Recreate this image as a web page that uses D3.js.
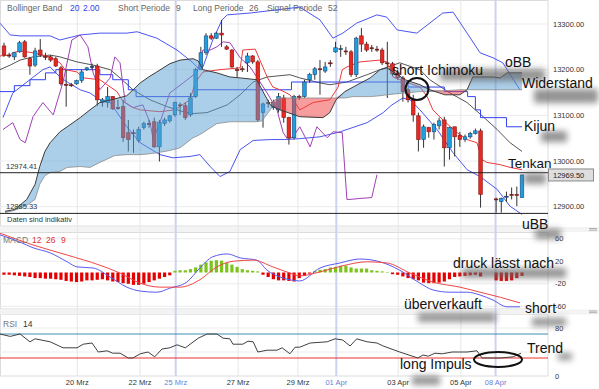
<!DOCTYPE html>
<html>
<head>
<meta charset="utf-8">
<script src="https://cdn.jsdelivr.net/npm/d3@7"></script>
<style>
  body { margin: 0; background: #fff; }
  svg { font-family: "Liberation Sans", Arial, sans-serif; display: block; }
</style>
</head>
<body>
<svg id="chart" width="599" height="389"></svg>
<script>
// candle data, one row per bar: [open, high, low, close], null = no bar
const candles = [
  [13252,13259,13228,13232],[13232,13237,13226,13231],[13228,13239,13221,13237],[13239,13263,13237,13259],
  [13261,13265,13226,13228],[13224,13228,13189,13208],[13210,13248,13206,13241],[13243,13267,13228,13232],
  [13229,13237,13221,13228],[13228,13232,13217,13221],[13224,13228,13206,13208],[13204,13208,13165,13169],
  [13168,13200,13119,13166],[13167,13171,13162,13166],[13169,13178,13167,13176],[13176,13200,13171,13195],
  [13200,13206,13197,13204],[13206,13213,13200,13207],[13208,13213,13121,13134],[13128,13138,13119,13134],
  [13128,13162,13117,13141],[13141,13142,13112,13114],[13117,13134,13112,13116],[13119,13134,13042,13051],
  [13062,13090,13021,13047],[13062,13069,13018,13061],[13045,13075,13040,13069],[13073,13086,13069,13082],
  [13082,13090,13073,13081],[13086,13095,13029,13031],[13031,13090,12999,13084],[13082,13095,13077,13090],
  [13088,13101,13084,13099],[13101,13130,13097,13128],[13123,13128,13101,13122],[13121,13128,13090,13095],
  [13101,13149,13097,13138],[13141,13204,13138,13200],[13200,13250,13199,13237],[13237,13280,13232,13274],
  [13274,13280,13265,13269],[13269,13283,13267,13280],[13280,13309,13250,13276],[13250,13254,13243,13245],
  [13243,13245,13204,13206],[13200,13206,13184,13199],[13202,13208,13195,13201],[13215,13237,13195,13230],
  [13230,13232,13213,13217],[13217,13221,13086,13090],[13106,13128,13073,13125],[13128,13134,13117,13127],
  [13117,13134,13112,13128],[13112,13149,13106,13141],[13138,13145,13084,13095],[13095,13097,13036,13051],
  [13051,13145,13047,13141],[13141,13145,13134,13140],[13141,13178,13138,13173],[13178,13193,13171,13189],
  [13189,13206,13178,13202],[13202,13221,13145,13201],[13197,13217,13193,13206],[13215,13221,13206,13214],
  [13239,13261,13237,13248],[13245,13254,13228,13246],[13241,13250,13232,13240],[13239,13243,13184,13189],
  [13189,13272,13184,13269],[13274,13291,13239,13256],[13256,13261,13239,13243],[13248,13254,13239,13247],
  [13245,13252,13239,13244],[13243,13248,13210,13215],[13215,13261,13138,13214],[13213,13217,13186,13191],
  [13193,13200,13178,13182],[13182,13186,13130,13152],[13156,13160,13128,13134],[13134,13145,13086,13101],
  [13099,13106,13021,13047],[13047,13080,13029,13075],[13073,13075,13051,13064],[13064,13084,13047,13080],
  [13077,13095,13069,13088],[13090,13097,12988,13029],[13029,13075,13003,13073],[13075,13075,13010,13053],
  [13056,13064,13031,13047],[13047,13058,13042,13053],[13053,13064,13049,13060],[13060,13071,13058,13066],
  [13066,13071,12898,12927],null,null,
  [12917,12920,12887,12915],[12911,12920,12887,12918],[12922,12933,12911,12923],[12927,12942,12916,12926],
  [12927,12944,12901,12926],[12920,12970,12920,12969.5]
];

// indicator lines, [bar index, value]
const bbUpper = [[-0.8,13302],[1.2,13276],[3.1,13274],[8.9,13274],[10.8,13265],[14.7,13276],[18.5,13280],[23.7,13280],
  [25.7,13283],[29.5,13269],[33.4,13243],[36.5,13215],[37.8,13200],[38.4,13206],[40.3,13265],[42.1,13309],[43.1,13320],
  [47.5,13324],[52.7,13331],[57.1,13337],[61.0,13309],[63.5,13269],[65.4,13280],[68.1,13302],[72.0,13320],[73.9,13315],
  [75.9,13287],[79.7,13280],[84.7,13324],[86.7,13326],[89.4,13280],[91.9,13237],[94.4,13226],[96.3,13215],[99.6,13156]];
const bbLower = [[-0.2,13095],[1.7,13149],[5.0,13178],[7.5,13200],[8.9,13206],[10.8,13184],[12.2,13173],[14.7,13156],
  [16.6,13149],[18.5,13134],[20.5,13128],[23.7,13075],[26.3,13040],[30.1,13014],[32.6,13007],[35.9,13010],[37.8,13014],
  [39.8,12988],[41.7,12966],[43.6,12977],[45.6,13025],[48.1,13045],[51.4,13047],[54.2,13047],[57.1,13049],[61.0,13053],
  [64.9,13064],[70.1,13084],[73.2,13106],[74.9,13123],[77.0,13138],[78.4,13134],[80.3,13112],[83.6,13069],[86.7,13018],
  [89.4,12981],[91.9,12966],[95.2,12938],[97.7,12901],[100,12883]];
const bbMiddle = [[-0.8,13200],[1.2,13210],[3.1,13221],[5.6,13228],[8.9,13232],[10.8,13228],[14.1,13217],[17.2,13210],
  [20.5,13200],[22.4,13182],[24.9,13156],[28.2,13134],[31.5,13119],[34.6,13108],[36.5,13104],[39.2,13106],[43.1,13123],
  [45.6,13145],[48.1,13173],[50.8,13184],[55.2,13189],[57.1,13182],[61.0,13171],[62.9,13167],[66.2,13173],[70.1,13189],
  [72.6,13200],[76.4,13215],[80.3,13200],[82.2,13178],[86.1,13149],[89.4,13128],[92.5,13097],[95.2,13069],[97.7,13040],[100,13021]];
const tenkan = [[-0.8,13230],[1.2,13232],[1.7,13237],[3.1,13241],[5.6,13237],[8.9,13228],[10.8,13215],[11.8,13200],
  [14.1,13195],[15.3,13182],[18.5,13178],[19.9,13167],[21.8,13152],[23.0,13130],[24.9,13117],[26.3,13112],[30.1,13108],
  [33.0,13112],[35.9,13134],[36.9,13171],[38.4,13195],[41.7,13200],[45.6,13204],[46.1,13243],[48.5,13245],[49.4,13221],
  [50.8,13184],[51.9,13162],[53.3,13156],[55.2,13145],[57.1,13112],[59.7,13128],[62.9,13134],[64.5,13162],[65.3,13200],
  [66.2,13206],[68.7,13217],[72.6,13221],[73.9,13217],[75.1,13184],[76.4,13178],[80.3,13162],[81.7,13141],[82.8,13112],
  [84.7,13090],[87.5,13062],[89.4,13047],[91.3,13040],[92.3,13003],[93.2,12997],[95.8,12992],[97.7,12986],[100,12981]];
const kijun = [[-0.8,13152],[2,13165],[5,13178],[8,13193],[10,13200],[18.5,13189],[21,13178],[24,13156],[25.5,13141],
  [37,13156],[55.5,13173],[78,13162],[85,13152],[89.5,13141],[91,13112],[92,13095],[97,13075],[100,13075]];
const chikou = [[-0.2,13069],[1.7,13084],[3.1,13047],[4.1,13040],[5.6,13097],[7.5,13128],[9.5,13101],[11.4,13173],
  [13.1,13265],[14.7,13276],[16.2,13250],[17.2,13193],[18.5,13156],[20.5,13182],[21.4,13228],[22.4,13215],[23.4,13128],
  [24.9,13117],[26.8,13123],[28.2,13084],[28.8,13047],[30.1,13084],[32.0,13149],[34.6,13171],[37.3,13195],[38.4,13243],
  [39.8,13243],[41.1,13250],[42.3,13261],[43.6,13259],[45.6,13226],[47.5,13206],[48.8,13184],[50.8,13149],[52.7,13112],
  [53.9,13062],[54.8,13047],[55.8,13053],[57.1,13075],[59.1,13031],[60.4,13075],[62.4,13051],[63.5,13064],[65.3,13062],
  [66.2,12916],[66.8,12916],[68.7,12918],[71.0,12920],[72.0,12970]];
// cloud: [bar index, senkou A, senkou B]
const cloud = [[0.2,12890,12887],[2.1,12894,12892],[4.4,12916,12903],[6.0,12949,12916],[6.9,12988,12949],[7.9,13021,12968],
  [8.9,13040,12975],[10.8,13064,12977],[12.2,13075,12986],[14.7,13095,12988],[16.6,13112,12986],[18.5,13128,12997],
  [21.4,13136,13012],[23.7,13143,13014],[25.3,13160,13014],[26.3,13171,13014],[28.2,13186,13016],[29.5,13195,13018],
  [32.0,13213,13023],[34.0,13221,13029],[36.5,13224,13051],[37.5,13219,13056],[38.4,13200,13062],[41.1,13193,13082],
  [43.6,13184,13086],[45.6,13182,13086],[48.8,13178,13086],[49.8,13156,13088],[51.4,13123,13112],[52.3,13117,13134],
  [53.3,13112,13138],[57.1,13097,13138],[61.6,13095,13138],[62.9,13106,13138],[64.1,13134,13138],[65.8,13152,13138],
  [67.4,13162,13141],[70.7,13182,13141],[72.6,13200,13143],[73.9,13204,13145],[75.5,13193,13147],[77.4,13178,13149],
  [80.3,13167,13152],[82.2,13156,13152],[85.1,13145,13154],[88.0,13145,13156],[89.4,13156,13156],[90.5,13184,13156],
  [94.4,13184,13156],[95.8,13182,13156],[97.1,13193,13156],[100,13193,13156]];

// MACD 12 26 9
const macdHist = [-4,-4,-5,-6,-7,-8,-10,-10,-11,-11,-12,-13,-15,-16,-17,-16,-14,-14,-13,-12,
  -14,-16,-17,-19,-20,-22,-22,-20,-17,-14,-11,-8,-5,3,4,4,6,9,14,18,
  21,22,21,17,14,10,6,4,3,2,-4,-8,-12,-14,-14,-15,-16,-10,-6,-2,
  3,5,6,9,10,12,12,9,7,7,7,4,3,2,1,-3,-4,-7,-10,-12,
  -14,-18,-19,-19,-18,-16,-12,-8,-7,-6,-5,-4,-7,null,null,-14,-15,-15,-14,-10,-6];
const macdLine = [[-0.8,67],[3.1,54],[5.6,44],[8.9,35],[12.2,19],[14.1,10],[17.2,8],[20.5,-8],[23.7,-26],[26.3,-33],
  [29.5,-35],[32.0,-28],[35.3,-17],[37.8,8],[40.3,28],[43.1,33],[45.6,26],[48.8,22],[50.8,4],[53.3,-8],[55.2,-13],
  [57.1,-15],[61.0,8],[64.9,17],[68.7,24],[72.6,19],[76.4,4],[80.3,-19],[82.8,-31],[86.1,-35],[89.4,-35],[91.9,-40],
  [94.4,-49],[97.1,-61],[99.6,-61]];
const signalLine = [[-0.8,70],[5.6,49],[12.2,31],[18.5,13],[22.4,-1],[26.3,-19],[30.1,-26],[34.0,-26],[37.8,-13],
  [41.1,10],[44.2,20],[48.1,22],[51.9,10],[55.2,-1],[57.1,-6],[61.0,1],[65.4,12],[70.1,19],[73.9,17],[78.4,-1],
  [82.8,-17],[88.0,-26],[91.9,-35],[95.8,-44],[99.6,-54]];

// RSI 14
const rsi = [[-0.8,70],[1.2,66],[3.1,70],[5.0,57],[6.0,62],[8.9,57],[11.4,47],[14.1,47],[15.3,53],[17.0,55],[18.2,40],
  [19.9,42],[21.0,38],[22.4,38],[24.0,30],[24.9,30],[26.3,37],[27.8,40],[29.1,32],[30.5,45],[32.0,47],[33.4,52],
  [35.0,47],[37.5,63],[39.2,70],[41.1,70],[42.3,63],[43.6,62],[44.2,53],[46.1,53],[47.1,58],[48.1,57],[49.0,40],
  [50.8,43],[52.7,43],[53.7,47],[55.2,37],[56.2,48],[57.1,48],[59.1,55],[62.4,57],[63.9,62],[65.4,60],[66.8,50],
  [68.1,62],[70.1,57],[72.0,55],[73.2,50],[76.4,40],[79.9,30],[80.9,35],[81.9,33],[83.2,38],[84.6,37],[86.5,40],
  [88.0,40],[89.4,40],[91.3,42],[92.3,30],[95.8,30],[98.3,32],[99.8,38]];

// axes
const dateLabels = ['20 Mrz','22 Mrz','25 Mrz','27 Mrz','29 Mrz','01 Apr','03 Apr','05 Apr','08 Apr'];
const dateIdx = [14.15, 26.25, 33.15, 45.2, 56.75, 64.15, 76.1, 88.2, 94.9];
const weekStart = [false, false, true, false, false, true, false, false, true];
const priceTicks = [13300, 13200, 13100, 13000, 12900];
const macdTicks = [60, 20, -20, -60];
const rsiTicks = [80, 0];
const refLevels = [12974.41, 12885.33];
const lastPrice = 12969.50;

const svg = d3.select('#chart');
const defs = svg.append('defs');
const R = 548;

const x = d3.scaleLinear().domain([0, 100]).range([4, 522]);
const yP = d3.scaleLinear().domain([12900, 13300]).range([206.7, 24]);
const yM = d3.scaleLinear().domain([-60, 60]).range([306.25, 238.75]);
const yR = d3.scaleLinear().domain([0, 100]).range([376, 316]);

[['clipMain', 1, 225], ['clipMacd', 233, 76], ['clipRsi', 315, 61]].forEach(([id, y0, h]) => {
  defs.append('clipPath').attr('id', id).append('rect')
    .attr('x', 0).attr('y', y0).attr('width', R).attr('height', h);
});
defs.append('filter').attr('id', 'blur').attr('x', '-60%').attr('y', '-150%')
  .attr('width', '220%').attr('height', '400%')
  .append('feGaussianBlur').attr('stdDeviation', 3.2);

// panels + separators
svg.append('rect').attr('width', 599).attr('height', 389).attr('fill', '#fff');
[[0.5, 226], [232.5, 309], [314.5, 376]].forEach(([a, b]) => {
  svg.append('rect').attr('x', 0.5).attr('y', a).attr('width', R - 0.5).attr('height', b - a)
    .attr('fill', '#fff').attr('stroke', '#dcdcdc');
});
[[227, 5], [309.5, 5]].forEach(([y0, h]) => {
  svg.append('rect').attr('x', 0).attr('y', y0).attr('width', 599).attr('height', h).attr('fill', '#f3f3f3');
  [y0 + 1.5, y0 + 3.2].forEach(yy => svg.append('line').attr('x1', 589).attr('x2', 597)
    .attr('y1', yy).attr('y2', yy).attr('stroke', '#9a9a9a').attr('stroke-width', 0.8));
});

// grid
const grid = svg.append('g');
priceTicks.forEach(p => grid.append('line').attr('x1', 0).attr('x2', R).attr('y1', yP(p)).attr('y2', yP(p)).attr('stroke', '#ececec'));
macdTicks.forEach(v => grid.append('line').attr('x1', 0).attr('x2', R).attr('y1', yM(v)).attr('y2', yM(v)).attr('stroke', '#ececec'));
[80, 40].forEach(v => grid.append('line').attr('x1', 0).attr('x2', R).attr('y1', yR(v)).attr('y2', yR(v)).attr('stroke', '#ececec'));
dateIdx.forEach((d, i) => {
  grid.append('line').attr('x1', x(d)).attr('x2', x(d)).attr('y1', 0).attr('y2', 376)
    .attr('stroke', weekStart[i] ? '#cdd2ee' : '#e6e6e6').attr('stroke-width', weekStart[i] ? 2 : 1);
});

// ---- main panel ----
const gMain = svg.append('g').attr('clip-path', 'url(#clipMain)');
const lineP = d3.line().x(d => x(d[0])).y(d => yP(d[1]));
const drawLine = (g, data, gen, color, w) => g.append('path').datum(data).attr('d', gen)
  .attr('fill', 'none').attr('stroke', color).attr('stroke-width', w || 1);

drawLine(gMain, bbUpper, lineP, '#4a55f0');
drawLine(gMain, bbLower, lineP, '#4a55f0');
drawLine(gMain, bbMiddle, lineP, '#555');
drawLine(gMain, kijun, d3.line().x(d => x(d[0])).y(d => yP(d[1])).curve(d3.curveStepAfter), '#3340f0');
drawLine(gMain, tenkan, lineP, '#f03a3a');
drawLine(gMain, chikou, lineP, '#a040b4');

// candles
const bw = 3.6;
const bars = candles.map((c, i) => ({ i, c })).filter(d => d.c);
gMain.append('g').selectAll('line').data(bars).join('line')
  .attr('x1', d => x(d.i)).attr('x2', d => x(d.i))
  .attr('y1', d => yP(d.c[1])).attr('y2', d => yP(d.c[2]))
  .attr('stroke', '#333').attr('stroke-width', 1);
gMain.append('g').selectAll('rect').data(bars).join('rect')
  .attr('x', d => x(d.i) - bw / 2)
  .attr('y', d => yP(Math.max(d.c[0], d.c[3])))
  .attr('width', bw)
  .attr('height', d => Math.max(1, Math.abs(yP(d.c[0]) - yP(d.c[3]))))
  .attr('fill', d => Math.abs(d.c[3] - d.c[0]) < 3 ? '#333' : (d.c[3] > d.c[0] ? '#1f9fe0' : '#e62a22'))
  .attr('stroke', d => d.c[3] > d.c[0] ? '#1a4a7a' : '#8a1212').attr('stroke-width', 0.6);

// kumo on top, translucent
const blueArea = d3.area().x(d => x(d[0])).y0(d => yP(d[2])).y1(d => yP(Math.max(d[1], d[2])));
const redArea = d3.area().x(d => x(d[0])).y0(d => yP(d[1])).y1(d => yP(Math.max(d[1], d[2])));
gMain.append('path').datum(cloud).attr('d', blueArea).attr('fill', '#5a9fd4').attr('fill-opacity', 0.5);
gMain.append('path').datum(cloud).attr('d', redArea).attr('fill', '#f03c3c').attr('fill-opacity', 0.5);
drawLine(gMain, cloud.map(d => [d[0], d[2]]), lineP, '#8a8a8a', 0.8);
drawLine(gMain, cloud.map(d => [d[0], d[1]]), lineP, '#3c3c3c', 1);

refLevels.forEach(p => {
  gMain.append('line').attr('x1', 0).attr('x2', R).attr('y1', yP(p)).attr('y2', yP(p))
    .attr('stroke', '#222').attr('stroke-width', 1);
  svg.append('text').attr('x', 6).attr('y', yP(p) - 4).attr('font-size', 7.5).attr('fill', '#333')
    .text(p.toFixed(2));
});

// header
const hdr = svg.append('text').attr('x', 7).attr('y', 11).attr('font-size', 8.5).attr('fill', '#666');
hdr.append('tspan').text('Bollinger Band');
hdr.append('tspan').attr('x', 70).attr('fill', '#3340f0').text('20');
hdr.append('tspan').attr('x', 83).attr('fill', '#3340f0').text('2.00');
hdr.append('tspan').attr('x', 118).text('Short Periode');
hdr.append('tspan').attr('x', 176).text('9');
hdr.append('tspan').attr('x', 193).text('Long Periode');
hdr.append('tspan').attr('x', 249).text('26');
hdr.append('tspan').attr('x', 267).text('Signal Periode');
hdr.append('tspan').attr('x', 328).text('52');
svg.append('text').attr('x', 7).attr('y', 222).attr('font-size', 7.5).attr('fill', '#333').text('Daten sind indikativ');

// ---- MACD ----
const gMacd = svg.append('g').attr('clip-path', 'url(#clipMacd)');
const hist = macdHist.map((v, i) => [i, v]).filter(d => d[1] !== null);
gMacd.append('g').selectAll('rect').data(hist).join('rect')
  .attr('x', d => x(d[0]) - 1.6).attr('width', 3.2)
  .attr('y', d => yM(Math.max(0, d[1])))
  .attr('height', d => Math.abs(yM(d[1]) - yM(0)))
  .attr('fill', d => d[1] >= 0 ? '#7cc41c' : '#e40000');
const lineM = d3.line().x(d => x(d[0])).y(d => yM(d[1])).curve(d3.curveMonotoneX);
drawLine(gMacd, macdLine, lineM, '#5a5af2');
drawLine(gMacd, signalLine, lineM, '#f04646');
const mt = svg.append('text').attr('x', 3).attr('y', 243).attr('font-size', 8.5).attr('fill', '#777');
mt.append('tspan').text('MACD');
mt.append('tspan').attr('x', 32).attr('fill', '#e03030').text('12');
mt.append('tspan').attr('x', 46).attr('fill', '#e03030').text('26');
mt.append('tspan').attr('x', 61).attr('fill', '#e03030').text('9');

// ---- RSI ----
const gRsi = svg.append('g').attr('clip-path', 'url(#clipRsi)');
gRsi.append('line').attr('x1', 0).attr('x2', R).attr('y1', yR(70)).attr('y2', yR(70)).attr('stroke', '#3e8fb2');
gRsi.append('line').attr('x1', 0).attr('x2', R).attr('y1', yR(30)).attr('y2', yR(30)).attr('stroke', '#ee3030');
drawLine(gRsi, rsi, d3.line().x(d => x(d[0])).y(d => yR(d[1])), '#404040');
const rt = svg.append('text').attr('x', 3).attr('y', 327).attr('font-size', 8.5).attr('fill', '#777');
rt.append('tspan').text('RSI');
rt.append('tspan').attr('x', 23).attr('fill', '#333').text('14');

// ---- axes ----
const ax = svg.append('g').attr('font-size', 7.5).attr('fill', '#333');
priceTicks.forEach(p => ax.append('text').attr('x', 553).attr('y', yP(p) + 2.5).text(p.toFixed(2)));
macdTicks.forEach(v => ax.append('text').attr('x', 555).attr('y', yM(v) + 2.5).text(v));
rsiTicks.forEach(v => ax.append('text').attr('x', 555).attr('y', yR(v) + 2.5).text(v));
dateLabels.forEach((l, i) => ax.append('text').attr('x', x(dateIdx[i])).attr('y', 385)
  .attr('text-anchor', 'middle').attr('fill', weekStart[i] ? '#6a80d6' : '#333').text(l));

// ---- annotation shadows ----
const shadows = [[440, 69, 105, 12], [534, 89, 64, 14], [541, 131, 26, 11], [524, 173, 22, 11], [535, 229, 26, 10],
  [462, 268, 104, 10], [418, 313, 78, 9], [532, 318, 34, 8], [558, 353, 14, 7], [412, 376, 28, 9]];
svg.append('g').selectAll('rect').data(shadows).join('rect')
  .attr('x', d => d[0]).attr('y', d => d[1]).attr('width', d => d[2]).attr('height', d => d[3])
  .attr('fill', '#666').attr('opacity', 0.7).attr('filter', 'url(#blur)');

// current price box
svg.append('rect').attr('x', 548.5).attr('y', yP(lastPrice) - 6).attr('width', 45).attr('height', 12)
  .attr('fill', '#dedede').attr('stroke', '#8a8a8a');
svg.append('text').attr('x', 553).attr('y', yP(lastPrice) + 2.7).attr('font-size', 7.5).attr('fill', '#222')
  .text(lastPrice.toFixed(2));

// ---- annotations ----
const notes = [['short Ichimoku', 392, 75, 14], ['oBB', 505, 67, 14], ['Widerstand', 522, 88, 14], ['Kijun', 524, 131, 14],
  ['Tenkan', 508, 168, 13.5], ['uBB', 522, 229, 14], ['druck lässt nach', 453, 268, 14], ['überverkauft', 404, 309, 14],
  ['short', 525, 313, 14], ['Trend', 527, 353, 14], ['long Impuls', 400, 369, 14]];
svg.append('g').selectAll('text').data(notes).join('text')
  .attr('x', d => d[1]).attr('y', d => d[2]).attr('font-size', d => d[3]).attr('fill', '#111').text(d => d[0]);

svg.append('ellipse').attr('cx', 417).attr('cy', 89).attr('rx', 11.5).attr('ry', 11)
  .attr('fill', 'none').attr('stroke', '#111').attr('stroke-width', 2);
svg.append('ellipse').attr('cx', 498).attr('cy', 359.5).attr('rx', 24).attr('ry', 7.5)
  .attr('fill', 'none').attr('stroke', '#111').attr('stroke-width', 2);
</script>
</body>
</html>
